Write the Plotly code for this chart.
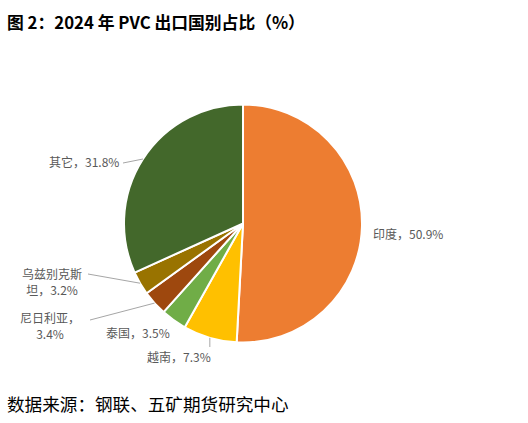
import plotly.graph_objects as go
import math

# ---- data ----
countries = ["印度", "越南", "泰国", "尼日利亚", "乌兹别克斯坦", "其它"]
shares = [50.9, 7.3, 3.5, 3.4, 3.2, 31.8]
colors = ["#ED7D31", "#FFC000", "#70AD47", "#9E480E", "#997300", "#43682B"]

W, H = 528, 423
CX, CY, R = 243, 223.5, 119  # pie centre / radius in px

def px(x):
    return x / W

def py(y):
    return 1 - y / H

fig = go.Figure()
fig.add_trace(go.Pie(
    labels=countries,
    values=shares,
    sort=False,
    direction="clockwise",
    rotation=0,
    marker=dict(colors=colors, line=dict(color="white", width=2)),
    textinfo="none",
    hoverinfo="label+percent",
    showlegend=False,
    domain=dict(x=[px(CX - R), px(CX + R)], y=[py(CY + R), py(CY - R)]),
))

# slice mid-angle edge points (clockwise from 12 o'clock)
total = sum(shares)
edges = []
cum = 0
for v in shares:
    mid = (cum + v / 2) / total * 2 * math.pi
    cum += v
    edges.append((CX + R * math.sin(mid), CY - R * math.cos(mid)))

LBL = dict(family="Noto Sans CJK SC, sans-serif", size=12, color="#595959")
texts = [f"{c}，{v:.1f}%" for c, v in zip(countries, shares)]

# label placement (px) and leader-line end (px or None)
place = [
    dict(x=371, y=233, xa="left", line=None, text=texts[0]),
    dict(x=179, y=356, xa="center", line=(None, 347), text=texts[1]),
    dict(x=138, y=332, xa="center", line=None, text=texts[2]),
    dict(x=50, y=325, xa="center", line=(90, 320), text="尼日利亚，<br>3.4%"),
    dict(x=52, y=281, xa="center", line=(88, 274), text="乌兹别克斯<br>坦，3.2%"),
    dict(x=121, y=161, xa="right", line=(123, 163), text=texts[5]),
]

for (ex, ey), p in zip(edges, place):
    fig.add_annotation(x=px(p["x"]), y=py(p["y"]), xref="paper", yref="paper",
                       text=p["text"], showarrow=False, xanchor=p["xa"],
                       yanchor="middle", align="center", font=LBL)
    if p["line"] is not None:
        lx, ly = p["line"]
        if lx is None:
            lx = ex
        fig.add_shape(type="line", xref="paper", yref="paper",
                      x0=px(ex), y0=py(ey), x1=px(lx), y1=py(ly),
                      line=dict(color="#A6A6A6", width=1))

fig.add_annotation(x=px(5), y=py(22), xref="paper", yref="paper",
                   text="<b>图 2：2024 年 PVC 出口国别占比（%）</b>", showarrow=False,
                   xanchor="left", yanchor="middle",
                   font=dict(family="Noto Sans CJK SC, sans-serif", size=16.8, color="#000000"))
fig.add_annotation(x=px(5), y=py(403), xref="paper", yref="paper",
                   text="数据来源：钢联、五矿期货研究中心", showarrow=False,
                   xanchor="left", yanchor="middle",
                   font=dict(family="Noto Sans CJK SC, sans-serif", size=17.6, color="#000000"))

fig.update_layout(width=W, height=H, margin=dict(l=0, r=0, t=0, b=0),
                  paper_bgcolor="white", plot_bgcolor="white")
fig.write_html("out.html", config={"displayModeBar": False},
               post_script="document.body.style.margin='0';document.body.style.padding='0';")
